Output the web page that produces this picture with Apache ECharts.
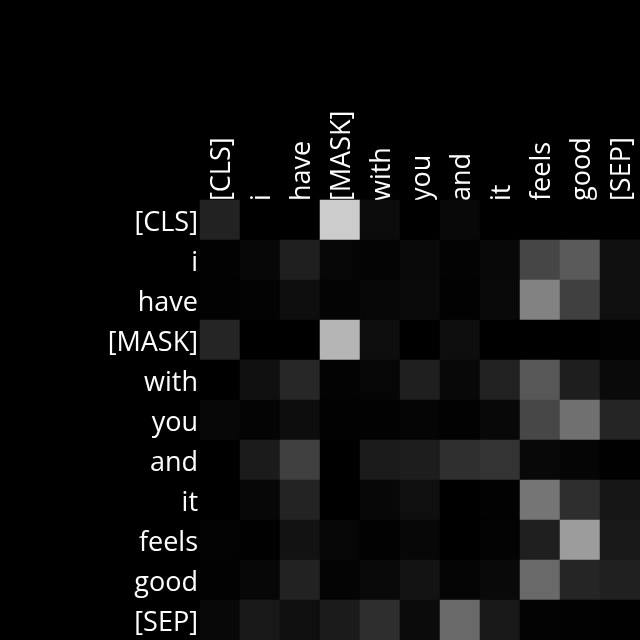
<!DOCTYPE html>
<html>
<head>
<meta charset="utf-8">
<style>html,body{margin:0;padding:0;background:#000;}#c{width:640px;height:640px;}</style>
<script src="https://cdn.jsdelivr.net/npm/echarts@6/dist/echarts.min.js"></script>
</head>
<body>
<div id="c"></div>
<script>
const tokens = ['[CLS]','i','have','[MASK]','with','you','and','it','feels','good','[SEP]'];
// attention weights, rows = query token (y), columns = key token (x)
const row0  = [0.133,0.000,0.000,0.800,0.047,0.000,0.031,0.000,0.000,0.000,0.000];
const row1  = [0.008,0.027,0.122,0.024,0.016,0.037,0.012,0.031,0.275,0.353,0.063];
const row2  = [0.008,0.012,0.055,0.016,0.024,0.039,0.008,0.035,0.510,0.251,0.059];
const row3  = [0.145,0.000,0.000,0.710,0.055,0.000,0.055,0.000,0.000,0.000,0.008];
const row4  = [0.000,0.063,0.153,0.012,0.024,0.122,0.031,0.129,0.341,0.118,0.039];
const row5  = [0.027,0.014,0.051,0.008,0.008,0.018,0.008,0.031,0.278,0.439,0.145];
const row6  = [0.000,0.106,0.251,0.000,0.106,0.114,0.184,0.200,0.031,0.020,0.004];
const row7  = [0.000,0.027,0.137,0.000,0.027,0.059,0.000,0.008,0.459,0.180,0.086];
const row8  = [0.012,0.004,0.071,0.024,0.008,0.027,0.000,0.012,0.122,0.612,0.098];
const row9  = [0.008,0.027,0.133,0.016,0.035,0.075,0.020,0.035,0.412,0.145,0.125];
const row10 = [0.031,0.094,0.059,0.106,0.180,0.043,0.412,0.094,0.012,0.008,0.004];
const rows = [row0,row1,row2,row3,row4,row5,row6,row7,row8,row9,row10];

const data = [];
rows.forEach((r, yi) => r.forEach((v, xi) => data.push([xi, yi, v])));

const chart = echarts.init(document.getElementById('c'));
const labelFont = {color:'#ffffff', fontSize:27, fontFamily:'Open Sans'};
chart.setOption({
  backgroundColor:'#000000',
  animation:false,
  grid:{left:200, top:200, right:0, bottom:0},
  xAxis:{type:'category', data:tokens, position:'top', offset:-5,
    axisLine:{show:false}, axisTick:{show:false}, splitLine:{show:false},
    axisLabel:Object.assign({rotate:-90, margin:4, interval:0, verticalAlign:'top', lineHeight:5}, labelFont)},
  yAxis:{type:'category', data:tokens, inverse:true,
    axisLine:{show:false}, axisTick:{show:false}, splitLine:{show:false},
    axisLabel:Object.assign({margin:2, interval:0, verticalAlign:'top', lineHeight:6}, labelFont)},
  visualMap:{show:false, min:0, max:1, dimension:2, inRange:{color:['#000000','#ffffff']}},
  series:[{type:'heatmap', data:data, itemStyle:{borderWidth:0}, emphasis:{disabled:true}}]
});
</script>
</body>
</html>
